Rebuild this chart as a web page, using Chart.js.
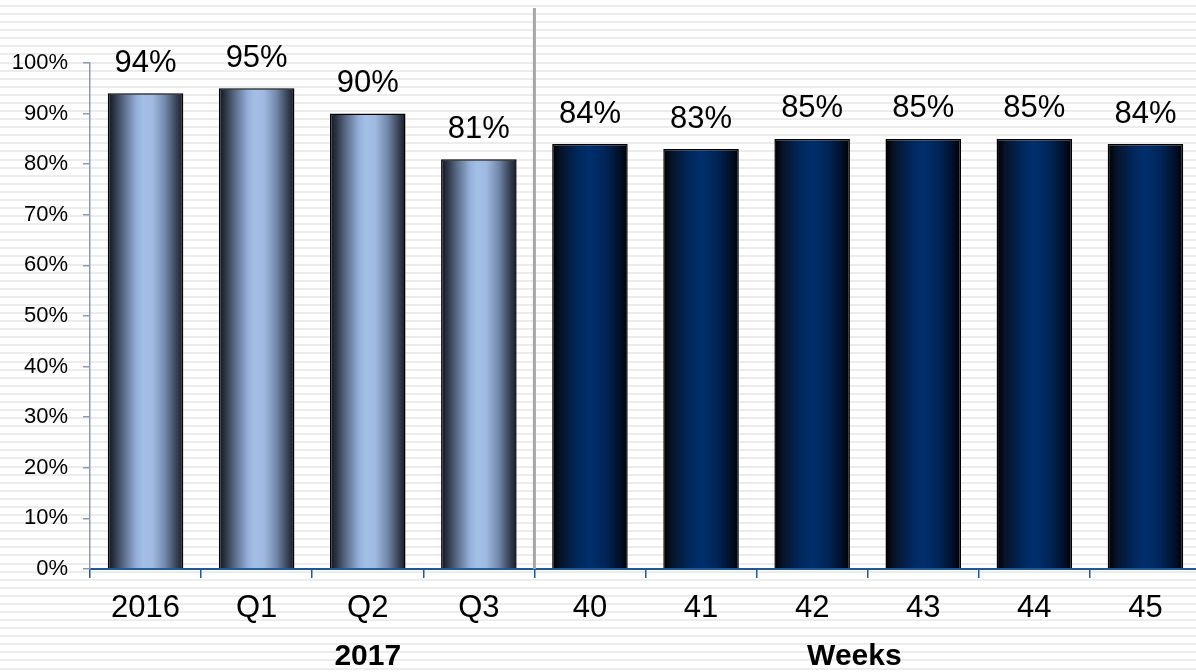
<!DOCTYPE html>
<html>
<head>
<meta charset="utf-8">
<script src="https://cdn.jsdelivr.net/npm/chart.js@4"></script>
<style>
  html, body {
    margin: 0;
    overflow: hidden;
    background: repeating-linear-gradient(to bottom, #fff 0, #fff 5px, #ececec 5px, #ececec 7px, #fff 7px, #fff 8.08px);
  }
  #wrap { position: relative; width: 1210px; height: 672px; }
</style>
</head>
<body>
<div id="wrap"><canvas id="chart"></canvas></div>
<script>
// categories: yearly / quarterly first, then weekly
const labels = ["2016", "Q1", "Q2", "Q3", "40", "41", "42", "43", "44", "45"];
const values = [94, 95, 90, 81, 84, 83, 85, 85, 85, 84];
const periodKind = ["q", "q", "q", "q", "w", "w", "w", "w", "w", "w"];
const yTicks = [0, 10, 20, 30, 40, 50, 60, 70, 80, 90, 100];
const groupNames = ["2017", "Weeks"];

const BAR_PCT = 0.68;

function barGradient(ctx) {
  const chart = ctx.chart;
  if (!chart.chartArea) return "#4a6fa5";
  const xs = chart.scales.x;
  const cx = xs.getPixelForValue(ctx.dataIndex);
  const half = xs.width / labels.length * BAR_PCT / 2;
  const g = chart.ctx.createLinearGradient(cx - half, 0, cx + half, 0);
  if (periodKind[ctx.dataIndex] === "q") {
    g.addColorStop(0, "#101319");
    g.addColorStop(0.08, "#2a3342");
    g.addColorStop(0.22, "#5d6f8c");
    g.addColorStop(0.38, "#94afd8");
    g.addColorStop(0.47, "#a4bfe6");
    g.addColorStop(0.6, "#9fb9e0");
    g.addColorStop(0.76, "#7389ab");
    g.addColorStop(0.9, "#3b4659");
    g.addColorStop(1, "#181c24");
  } else {
    g.addColorStop(0, "#000000");
    g.addColorStop(0.12, "#06142c");
    g.addColorStop(0.35, "#00285e");
    g.addColorStop(0.5, "#002f6c");
    g.addColorStop(0.7, "#002558");
    g.addColorStop(0.9, "#000f26");
    g.addColorStop(1, "#000000");
  }
  return g;
}

// value labels, divider between the two periods and group captions
const decorations = {
  id: "decorations",
  afterDatasetsDraw(chart) {
    const c = chart.ctx;
    const xs = chart.scales.x;
    const area = chart.chartArea;
    const meta = chart.getDatasetMeta(0);

    c.save();
    c.fillStyle = "#000";
    c.font = "31px 'Liberation Sans', Arial, sans-serif";
    c.textAlign = "center";
    c.textBaseline = "middle";
    meta.data.forEach((bar, i) => {
      c.fillText(values[i] + "%", bar.x, bar.y - 30);
    });

    const firstWeek = periodKind.indexOf("w");
    const sepX = (xs.getPixelForValue(firstWeek - 1) + xs.getPixelForValue(firstWeek)) / 2;
    c.strokeStyle = "#a6a6a6";
    c.lineWidth = 3;
    c.beginPath();
    c.moveTo(sepX, 8);
    c.lineTo(sepX, area.bottom);
    c.stroke();

    c.font = "bold 30px 'Liberation Sans', Arial, sans-serif";
    c.fillText(groupNames[0], xs.getPixelForValue(2), 657);
    c.fillText(groupNames[1], xs.getPixelForValue(6.38), 657);
    c.restore();
  }
};

new Chart(document.getElementById("chart").getContext("2d"), {
  type: "bar",
  data: {
    labels: labels,
    datasets: [{
      data: values,
      backgroundColor: barGradient,
      borderColor: "#000",
      borderWidth: 1.5,
      barPercentage: BAR_PCT,
      categoryPercentage: 1
    }]
  },
  options: {
    responsive: true,
    maintainAspectRatio: false,
    animation: false,
    layout: { padding: { top: 63, right: 9, left: 0, bottom: 0 } },
    plugins: {
      legend: { display: false },
      tooltip: { enabled: false }
    },
    scales: {
      x: {
        afterFit: s => { s.height = 103; },
        grid: { drawOnChartArea: false, offset: true, color: "#1f5a96", lineWidth: 1.5, tickLength: 9 },
        border: { color: "#1f5a96", width: 2 },
        ticks: {
          color: "#000",
          padding: 12,
          maxRotation: 0,
          font: { family: "'Liberation Sans', Arial, sans-serif", size: 31 }
        }
      },
      y: {
        min: 0,
        max: 100,
        afterFit: s => { s.width = 90; },
        afterBuildTicks: s => { s.ticks = yTicks.map(v => ({ value: v })); },
        grid: { drawOnChartArea: false, color: "#8c9ab8", lineWidth: 1.5, tickLength: 7 },
        border: { color: "#8c9ab8", width: 1.5 },
        ticks: {
          color: "#000",
          padding: 15,
          font: { family: "'Liberation Sans', Arial, sans-serif", size: 22 },
          callback: v => v + "%"
        }
      }
    }
  },
  plugins: [decorations]
});
</script>
</body>
</html>
